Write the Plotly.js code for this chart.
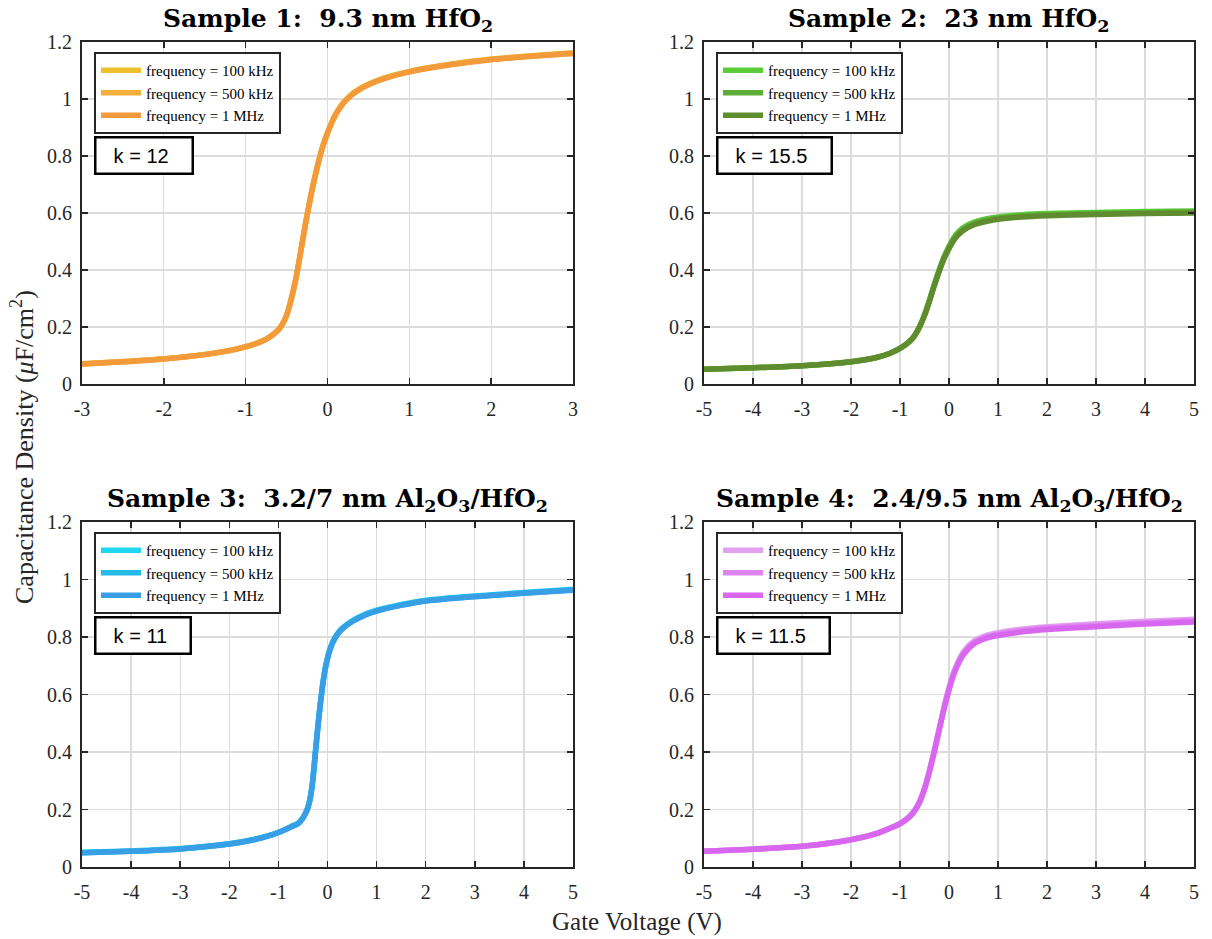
<!DOCTYPE html>
<html>
<head>
<meta charset="utf-8">
<script src="https://cdn.plot.ly/plotly-3.0.1.min.js"></script>
<style>html,body{margin:0;padding:0;background:#fff;}#chart{width:1212px;height:939px;}</style>
</head>
<body>
<div id="chart"></div>
<script>
// ---------- DATA ----------
const freqLabels = ["frequency = 100 kHz", "frequency = 500 kHz", "frequency = 1 MHz"];
const titles = [
  "Sample 1:  9.3 nm HfO<sub>2</sub>",
  "Sample 2:  23 nm HfO<sub>2</sub>",
  "Sample 3:  3.2/7 nm Al<sub>2</sub>O<sub>3</sub>/HfO<sub>2</sub>",
  "Sample 4:  2.4/9.5 nm Al<sub>2</sub>O<sub>3</sub>/HfO<sub>2</sub>"
];
const kLabels = ["k = 12", "k = 15.5", "k = 11", "k = 11.5"];

// Sample 1 (gate voltage -3..3 V)
const s1_v     = [-3,-2.5,-2,-1.5,-1.2,-1,-0.8,-0.7,-0.6,-0.55,-0.5,-0.45,-0.4,-0.35,-0.3,-0.25,-0.2,-0.15,-0.1,-0.05,0,0.05,0.1,0.15,0.2,0.3,0.4,0.5,0.7,1,1.5,2,2.5,3];
const s1_c100k = [0.071,0.079,0.089,0.104,0.118,0.131,0.151,0.167,0.191,0.211,0.241,0.291,0.351,0.427,0.512,0.592,0.667,0.732,0.792,0.842,0.882,0.917,0.947,0.970,0.989,1.017,1.037,1.052,1.074,1.097,1.122,1.140,1.152,1.162];
const s1_c500k = [0.070,0.078,0.088,0.103,0.117,0.130,0.150,0.166,0.190,0.210,0.240,0.290,0.350,0.426,0.511,0.591,0.666,0.731,0.791,0.841,0.881,0.916,0.946,0.969,0.988,1.016,1.036,1.051,1.073,1.096,1.121,1.139,1.151,1.161];
const s1_c1M   = [0.070,0.078,0.088,0.103,0.117,0.130,0.150,0.166,0.190,0.210,0.240,0.290,0.350,0.425,0.510,0.590,0.665,0.730,0.790,0.840,0.880,0.915,0.945,0.968,0.987,1.015,1.035,1.050,1.072,1.095,1.120,1.138,1.150,1.160];

// Sample 2 (gate voltage -5..5 V)
const s2_v     = [-5,-4,-3,-2,-1.5,-1.2,-1,-0.8,-0.7,-0.6,-0.5,-0.4,-0.3,-0.2,-0.1,0,0.1,0.2,0.3,0.5,0.75,1,1.5,2,3,4,5];
const s2_c100k = [0.052,0.057,0.064,0.078,0.092,0.108,0.125,0.150,0.171,0.202,0.243,0.294,0.350,0.401,0.447,0.483,0.514,0.535,0.550,0.567,0.579,0.586,0.594,0.598,0.602,0.605,0.607];
const s2_c500k = [0.052,0.057,0.064,0.078,0.092,0.108,0.125,0.150,0.170,0.201,0.241,0.292,0.347,0.398,0.443,0.479,0.509,0.530,0.545,0.562,0.574,0.582,0.590,0.594,0.598,0.601,0.603];
const s2_c1M   = [0.052,0.057,0.064,0.078,0.092,0.108,0.125,0.150,0.170,0.200,0.240,0.290,0.345,0.395,0.440,0.475,0.505,0.525,0.540,0.558,0.570,0.578,0.586,0.590,0.595,0.598,0.600];

// Sample 3 (gate voltage -5..5 V)
const s3_v     = [-5,-4,-3,-2,-1.5,-1.2,-1,-0.8,-0.7,-0.6,-0.5,-0.45,-0.4,-0.35,-0.3,-0.25,-0.2,-0.15,-0.1,-0.05,0,0.05,0.1,0.2,0.3,0.5,0.75,1,1.5,2,3,4,5];
const s3_c100k = [0.051,0.056,0.064,0.081,0.096,0.109,0.121,0.136,0.144,0.152,0.172,0.187,0.208,0.243,0.303,0.393,0.483,0.563,0.633,0.688,0.728,0.758,0.781,0.811,0.831,0.856,0.878,0.893,0.913,0.928,0.943,0.955,0.966];
const s3_c500k = [0.050,0.055,0.063,0.080,0.095,0.108,0.120,0.135,0.143,0.151,0.171,0.186,0.206,0.241,0.301,0.391,0.481,0.561,0.631,0.686,0.726,0.756,0.779,0.809,0.829,0.854,0.876,0.891,0.911,0.926,0.941,0.953,0.964];
const s3_c1M   = [0.050,0.055,0.063,0.080,0.095,0.108,0.120,0.135,0.143,0.150,0.170,0.185,0.205,0.240,0.300,0.390,0.480,0.560,0.630,0.685,0.725,0.755,0.778,0.808,0.828,0.853,0.875,0.890,0.910,0.925,0.940,0.952,0.963];

// Sample 4 (gate voltage -5..5 V)
const s4_v     = [-5,-4,-3,-2,-1.5,-1.2,-1,-0.8,-0.7,-0.6,-0.5,-0.4,-0.3,-0.2,-0.1,0,0.1,0.2,0.3,0.5,0.75,1,1.5,2,3,4,5];
const s4_c100k = [0.055,0.062,0.072,0.096,0.116,0.136,0.152,0.178,0.198,0.229,0.275,0.336,0.407,0.483,0.559,0.625,0.680,0.720,0.750,0.785,0.805,0.815,0.828,0.836,0.846,0.855,0.862];
const s4_c500k = [0.055,0.062,0.072,0.095,0.115,0.135,0.151,0.176,0.196,0.227,0.272,0.333,0.403,0.479,0.554,0.620,0.675,0.715,0.745,0.780,0.800,0.810,0.823,0.831,0.841,0.850,0.857];
const s4_c1M   = [0.055,0.062,0.072,0.095,0.115,0.135,0.150,0.175,0.195,0.225,0.270,0.330,0.400,0.475,0.550,0.615,0.670,0.710,0.740,0.775,0.795,0.805,0.818,0.826,0.836,0.845,0.852];

const xTicks1 = [-3,-2,-1,0,1,2,3];
const xTickText1 = ["-3","-2","-1","0","1","2","3"];
const xTicks2 = [-5,-4,-3,-2,-1,0,1,2,3,4,5];
const xTickText2 = ["-5","-4","-3","-2","-1","0","1","2","3","4","5"];
const yTicks = [0,0.2,0.4,0.6,0.8,1,1.2];
const yTickText = ["0","0.2","0.4","0.6","0.8","1","1.2"];

// ---------- STYLE ----------
const colors = [
  ["#EDC02E","#F4AE3A","#F39A3A"],
  ["#5BCB3A","#5DAD38","#5E8C2E"],
  ["#1FD7EE","#26BAE8","#389FE6"],
  ["#E3A2F0","#DE84EF","#D866EE"]
];
const W = 1212, H = 939;
// pixel boxes of the four plot areas [left, right, top, bottom]
const boxes = [
  [82, 573, 42, 384],
  [704, 1194, 42, 384],
  [82, 573, 522, 867],
  [704, 1194, 522, 867]
];
const px = x => x / W;
const py = y => 1 - y / H;

const datasets = [
  [s1_v, [s1_c100k, s1_c500k, s1_c1M], xTicks1, xTickText1, [-3,3]],
  [s2_v, [s2_c100k, s2_c500k, s2_c1M], xTicks2, xTickText2, [-5,5]],
  [s3_v, [s3_c100k, s3_c500k, s3_c1M], xTicks2, xTickText2, [-5,5]],
  [s4_v, [s4_c100k, s4_c500k, s4_c1M], xTicks2, xTickText2, [-5,5]]
];

const SERIF = "Liberation Serif";
const traces = [];
const layout = {
  width: W, height: H,
  margin: {l:0, r:0, t:0, b:0},
  paper_bgcolor: "#fff", plot_bgcolor: "#fff",
  font: {family: SERIF, size: 20, color: "#262626"},
  showlegend: true,
  annotations: [],
};

function axisStyle() {
  return {
    showline: true, linecolor: "#262626", linewidth: 2, mirror: "ticks",
    ticks: "inside", ticklen: 6, tickwidth: 1.5, tickcolor: "#262626",
    showgrid: true, gridcolor: "#dcdcdc", gridwidth: 1.3,
    zeroline: false,
    tickfont: {family: SERIF, size: 20, color: "#262626"},
    fixedrange: true
  };
}

datasets.forEach((d, i) => {
  const n = i + 1;
  const xa = n === 1 ? "x" : "x" + n;
  const ya = n === 1 ? "y" : "y" + n;
  const legName = n === 1 ? "legend" : "legend" + n;
  const b = boxes[i];
  d[1].forEach((ser, j) => {
    traces.push({
      type: "scatter", mode: "lines",
      x: d[0], y: ser,
      name: freqLabels[j],
      xaxis: xa, yaxis: ya, legend: legName,
      line: {color: colors[i][j], width: 5.5, shape: "spline", smoothing: 0.6},
      hoverinfo: "skip"
    });
  });
  layout[n === 1 ? "xaxis" : "xaxis" + n] = Object.assign(axisStyle(), {
    domain: [px(b[0]), px(b[1])], anchor: ya, range: d[4],
    tickmode: "array", tickvals: d[2], ticktext: d[3], ticklabelstandoff: 6
  });
  layout[n === 1 ? "yaxis" : "yaxis" + n] = Object.assign(axisStyle(), {
    domain: [py(b[3]), py(b[2])], anchor: xa, range: [0, 1.2],
    tickmode: "array", tickvals: yTicks, ticktext: yTickText, ticklabelstandoff: 4
  });
  layout[legName] = {
    x: px(b[0] + 12), y: py(b[2] + 10), xanchor: "left", yanchor: "top",
    xref: "paper", yref: "paper",
    bgcolor: "#fff", bordercolor: "#262626", borderwidth: 2,
    font: {family: SERIF, size: 15, color: "#000"},
    tracegroupgap: 0, itemwidth: 40, traceorder: "normal"
  };
  // subplot title
  layout.annotations.push({
    xref: "paper", yref: "paper",
    x: px((b[0] + b[1]) / 2), y: py(b[2] - 4), xanchor: "center", yanchor: "bottom",
    text: "<b>" + titles[i] + "</b>", showarrow: false,
    font: {family: "DejaVu Serif", size: 25, color: "#000"}
  });
  // k box
  layout.annotations.push({
    xref: "paper", yref: "paper",
    x: px(b[0] + 12), y: py(b[2] + 94), xanchor: "left", yanchor: "top",
    text: "&nbsp;&nbsp;" + kLabels[i] + "&nbsp;&nbsp;&nbsp;", showarrow: false, align: "left",
    borderpad: 6,
    bordercolor: "#000", borderwidth: 2.5, bgcolor: "#fff",
    font: {family: "Liberation Sans", size: 20, color: "#000"}
  });
});

// shared axis labels
layout.annotations.push({
  xref: "paper", yref: "paper", x: px(637), y: py(922),
  xanchor: "center", yanchor: "middle", showarrow: false,
  text: "Gate Voltage (V)", font: {family: SERIF, size: 25, color: "#262626"}
});
layout.annotations.push({
  xref: "paper", yref: "paper", x: px(22), y: py(447),
  xanchor: "center", yanchor: "middle", showarrow: false, textangle: -90,
  text: "Capacitance Density (<i>μ</i>F/cm<sup>2</sup>)",
  font: {family: SERIF, size: 26, color: "#262626"}
});

Plotly.newPlot("chart", traces, layout, {staticPlot: true, displayModeBar: false});
</script>
</body>
</html>
